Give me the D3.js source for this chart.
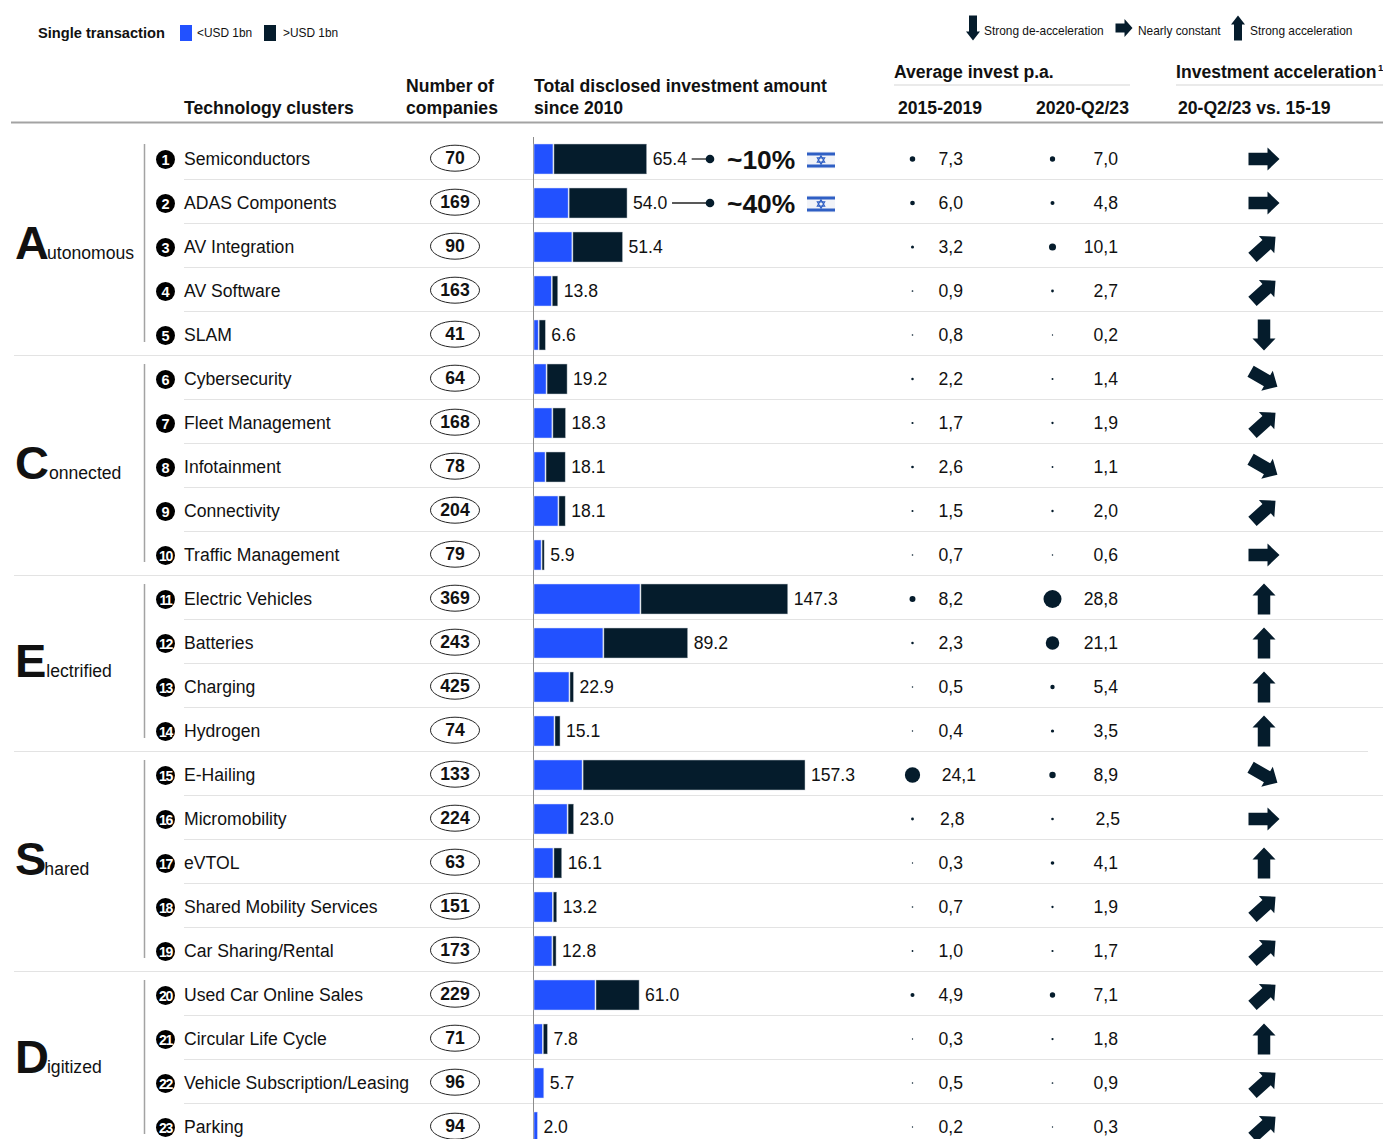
<!DOCTYPE html>
<html>
<head>
<meta charset="utf-8">
<script src="https://d3js.org/d3.v7.min.js"></script>
<style>
body { margin: 0; background: #fff; }
text { font-family: "Liberation Sans", Arial, sans-serif; fill: #111; }
</style>
</head>
<body>
<script>
var width = 1383, height = 1139;

var clusters = ["Semiconductors", "ADAS Components", "AV Integration", "AV Software", "SLAM",
  "Cybersecurity", "Fleet Management", "Infotainment", "Connectivity", "Traffic Management",
  "Electric Vehicles", "Batteries", "Charging", "Hydrogen",
  "E-Hailing", "Micromobility", "eVTOL", "Shared Mobility Services", "Car Sharing/Rental",
  "Used Car Online Sales", "Circular Life Cycle", "Vehicle Subscription/Leasing", "Parking"];
var companies = [70, 169, 90, 163, 41, 64, 168, 78, 204, 79, 369, 243, 425, 74, 133, 224, 63, 151, 173, 229, 71, 96, 94];
var totals = [65.4, 54.0, 51.4, 13.8, 6.6, 19.2, 18.3, 18.1, 18.1, 5.9, 147.3, 89.2, 22.9, 15.1, 157.3, 23.0, 16.1, 13.2, 12.8, 61.0, 7.8, 5.7, 2.0];
var below1bn = [11, 19.8, 22, 10, 2.4, 7, 10.4, 6.4, 13.9, 4.1, 61.5, 40, 20.3, 11.6, 27.9, 19.2, 11, 10.6, 10.4, 35.4, 4.8, 5.7, 2.0];
var avg1519 = [7.3, 6.0, 3.2, 0.9, 0.8, 2.2, 1.7, 2.6, 1.5, 0.7, 8.2, 2.3, 0.5, 0.4, 24.1, 2.8, 0.3, 0.7, 1.0, 4.9, 0.3, 0.5, 0.2];
var avg2023 = [7.0, 4.8, 10.1, 2.7, 0.2, 1.4, 1.9, 1.1, 2.0, 0.6, 28.8, 21.1, 5.4, 3.5, 8.9, 2.5, 4.1, 1.9, 1.7, 7.1, 1.8, 0.9, 0.3];
var accel = ["flat", "flat", "up45", "up45", "down", "down45", "up45", "down45", "up45", "flat", "up", "up", "up", "up", "down45", "flat", "up", "up45", "up45", "up45", "up", "up45", "up45"];
var groupLetters = ["A", "C", "E", "S", "D"];
var groupRests = ["utonomous", "onnected", "lectrified", "hared", "igitized"];
var groupStarts = [0, 5, 10, 14, 19];
var groupEnds = [4, 9, 13, 18, 22];
var callouts = [{row: 0, label: "~10%"}, {row: 1, label: "~40%"}];

var blue = "#2251ff", navy = "#051c2c", rule = "#e3e3e3", dark = "#a3a3a3", flagBlue = "#2f5fc4";
var fs = 17.6;

var svg = d3.select("body").append("svg")
    .attr("width", width)
    .attr("height", height)
    .style("display", "block");

var rows = d3.range(clusters.length);
var y = d3.scalePoint().domain(rows).range([159, 1127]);
var x = d3.scaleLinear().domain([0, 157.3]).range([534, 805]);
var r = d3.scaleLinear().domain([0, 28.8]).range([0.6, 9]);
var angle = {flat: 0, up45: -42, up: -90, down: 90, down45: 30};

// arrow pointing right, centred on 0,0
function arrowPath(len, shaft, head, neck) {
  var a = -len / 2, b = len / 2 - neck;
  return "M" + a + "," + (-shaft / 2) + "H" + b + "V" + (-head / 2) + "L" + (len / 2) + ",0L" + b + "," + (head / 2) + "V" + (shaft / 2) + "H" + a + "Z";
}

function label(sel, tx, ty, str, size, weight, anchor) {
  return sel.append("text").attr("x", tx).attr("y", ty)
    .attr("font-size", size).attr("font-weight", weight || null)
    .attr("text-anchor", anchor || "start").text(str);
}

// legend
label(svg, 38, 38, "Single transaction", 14.65, "bold");
svg.append("rect").attr("x", 180).attr("y", 25).attr("width", 12).attr("height", 16).attr("fill", blue);
label(svg, 197, 37, "<USD 1bn", 11.9);
svg.append("rect").attr("x", 264).attr("y", 25).attr("width", 12).attr("height", 16).attr("fill", navy);
label(svg, 283, 37, ">USD 1bn", 11.9);
svg.append("path").attr("d", arrowPath(25, 8, 14, 9)).attr("fill", navy).attr("transform", "translate(973,28) rotate(90)");
label(svg, 984, 35, "Strong de-acceleration", 11.9);
svg.append("path").attr("d", arrowPath(17, 9, 18, 8)).attr("fill", navy).attr("transform", "translate(1124,28)");
label(svg, 1138, 35, "Nearly constant", 11.9);
svg.append("path").attr("d", arrowPath(25, 8, 14, 9)).attr("fill", navy).attr("transform", "translate(1238,28) rotate(-90)");
label(svg, 1250, 35, "Strong acceleration", 11.9);

// headers
label(svg, 184, 113.5, "Technology clusters", fs, "bold");
label(svg, 406, 92, "Number of", fs, "bold");
label(svg, 406, 113.5, "companies", fs, "bold");
label(svg, 534, 92, "Total disclosed investment amount", fs, "bold");
label(svg, 534, 113.5, "since 2010", fs, "bold");
label(svg, 894, 78, "Average invest p.a.", fs, "bold");
label(svg, 1176, 78, "Investment acceleration", fs, "bold");
label(svg, 1378, 71, "1", 9.5, "bold");
label(svg, 898, 113.5, "2015-2019", fs, "bold");
label(svg, 1036, 113.5, "2020-Q2/23", fs, "bold");
label(svg, 1178, 113.5, "20-Q2/23 vs. 15-19", fs, "bold");
svg.append("line").attr("x1", 894).attr("x2", 1130).attr("y1", 85).attr("y2", 85).attr("stroke", rule).attr("stroke-width", 1.5);
svg.append("line").attr("x1", 1176).attr("x2", 1383).attr("y1", 85).attr("y2", 85).attr("stroke", rule).attr("stroke-width", 1.5);
svg.append("line").attr("x1", 11).attr("x2", 1383).attr("y1", 122.5).attr("y2", 122.5).attr("stroke", dark).attr("stroke-width", 2);

// row separators
svg.selectAll(".sep").data(rows.slice(0, -1)).enter().append("line")
    .attr("class", "sep")
    .attr("x1", function(d) { return groupEnds.indexOf(d) >= 0 ? 14 : 184; })
    .attr("x2", function(d) { return d == 13 ? 1368 : 1383; })
    .attr("y1", function(d) { return y(d) + 20.5; })
    .attr("y2", function(d) { return y(d) + 20.5; })
    .attr("stroke", rule);

// group labels
var groups = svg.selectAll(".group").data(groupLetters).enter().append("g").attr("class", "group");
groups.append("line")
    .attr("x1", 144.5).attr("x2", 144.5)
    .attr("y1", function(d, i) { return y(groupStarts[i]) - 15; })
    .attr("y2", function(d, i) { return Math.min(y(groupEnds[i]) + 7, height); })
    .attr("stroke", dark).attr("stroke-width", 1.5);
groups.append("text")
    .attr("x", 15)
    .attr("y", function(d, i) { return (y(groupStarts[i]) + y(groupEnds[i])) / 2 + 12; })
    .attr("font-size", 47).attr("font-weight", "bold")
    .text(function(d) { return d; })
    .each(function(d, i) {
      d3.select(this).append("tspan")
        .attr("dx", d == "C" || d == "E" ? 0 : -2)
        .attr("font-size", fs).attr("font-weight", "normal").text(groupRests[i]);
    });

// axis line of the bars
svg.append("line").attr("x1", x(0) - 0.5).attr("x2", x(0) - 0.5).attr("y1", 137).attr("y2", height).attr("stroke", "#8c8c8c");

var row = svg.selectAll(".row").data(rows).enter().append("g")
    .attr("class", "row")
    .attr("transform", function(d) { return "translate(0," + y(d) + ")"; });

row.append("circle").attr("cx", 165.5).attr("cy", 0.5).attr("r", 9.5).attr("fill", "#000");
row.append("text").attr("x", 165.5).attr("y", 5.5)
    .attr("text-anchor", "middle").attr("font-weight", "bold")
    .attr("font-size", function(d) { return d < 9 ? 14.5 : 14; })
    .attr("letter-spacing", function(d) { return d < 9 ? 0 : -1.4; })
    .style("fill", "#fff")
    .text(function(d) { return d + 1; });
row.append("text").attr("x", 184).attr("y", 6).attr("font-size", fs).text(function(d) { return clusters[d]; });

row.append("ellipse").attr("cx", 455).attr("cy", -0.8).attr("rx", 24.5).attr("ry", 13).attr("fill", "#fff").attr("stroke", "#222");
row.append("text").attr("x", 455).attr("y", 5.2).attr("text-anchor", "middle").attr("font-size", fs).attr("font-weight", "bold")
    .text(function(d) { return companies[d]; });

row.append("rect")
    .attr("x", x(0)).attr("y", -15).attr("height", 30)
    .attr("width", function(d) { return x(below1bn[d]) - x(0); })
    .attr("fill", blue).attr("stroke", "#d5dcf5").attr("stroke-width", 0.5);
row.filter(function(d) { return totals[d] > below1bn[d]; }).append("rect")
    .attr("x", function(d) { return x(below1bn[d]) + 1; }).attr("y", -15).attr("height", 30)
    .attr("width", function(d) { return x(totals[d]) - x(below1bn[d]) - 1; })
    .attr("fill", navy).attr("stroke", "#c5ccd2").attr("stroke-width", 0.5);
row.append("text")
    .attr("x", function(d) { return x(totals[d]) + 6; }).attr("y", 6)
    .attr("font-size", fs)
    .text(function(d) { return totals[d].toFixed(1); });

// dots and per-year values
var comma = function(v) { return v.toFixed(1).replace(".", ","); };
row.append("circle").attr("cx", 912.5).attr("r", function(d) { return r(avg1519[d]); }).attr("fill", navy);
row.append("text").attr("x", function(d) { return avg1519[d] > 20 ? 976 : (d == 15 ? 964.5 : 963); }).attr("y", 6)
    .attr("text-anchor", "end").attr("font-size", fs).text(function(d) { return comma(avg1519[d]); });
row.append("circle").attr("cx", 1052.5).attr("r", function(d) { return r(avg2023[d]); }).attr("fill", navy);
row.append("text").attr("x", function(d) { return d == 15 ? 1120 : 1118; }).attr("y", 6)
    .attr("text-anchor", "end").attr("font-size", fs).text(function(d) { return comma(avg2023[d]); });

row.append("path")
    .attr("d", arrowPath(31, 12.5, 23, 12))
    .attr("fill", navy)
    .attr("transform", function(d) { return "translate(1264,0) rotate(" + angle[accel[d]] + ")"; });

// callouts with the flag
var callout = svg.selectAll(".callout").data(callouts).enter().append("g")
    .attr("class", "callout")
    .attr("transform", function(d) { return "translate(0," + y(d.row) + ")"; });
callout.append("line")
    .attr("x1", function(d) { return x(totals[d.row]) + 45; }).attr("x2", 710)
    .attr("stroke", "#222").attr("stroke-width", 1.3);
callout.append("circle").attr("cx", 710).attr("r", 4.3).attr("fill", navy);
callout.append("text").attr("x", 727).attr("y", 10).attr("font-size", 26.4).attr("font-weight", "bold")
    .text(function(d) { return d.label; });
callout.append("rect").attr("x", 807).attr("y", -7.5).attr("width", 28).attr("height", 17).attr("fill", "#f1f3f8");
callout.append("rect").attr("x", 807).attr("y", -6.5).attr("width", 28).attr("height", 3).attr("fill", flagBlue);
callout.append("rect").attr("x", 807).attr("y", 5.5).attr("width", 28).attr("height", 3).attr("fill", flagBlue);
var star = d3.symbol().type(d3.symbolTriangle).size(24);
callout.append("path").attr("d", star).attr("fill", "none").attr("stroke", flagBlue).attr("stroke-width", 1.1)
    .attr("transform", "translate(821,1)");
callout.append("path").attr("d", star).attr("fill", "none").attr("stroke", flagBlue).attr("stroke-width", 1.1)
    .attr("transform", "translate(821,1) rotate(180)");
</script>
</body>
</html>
